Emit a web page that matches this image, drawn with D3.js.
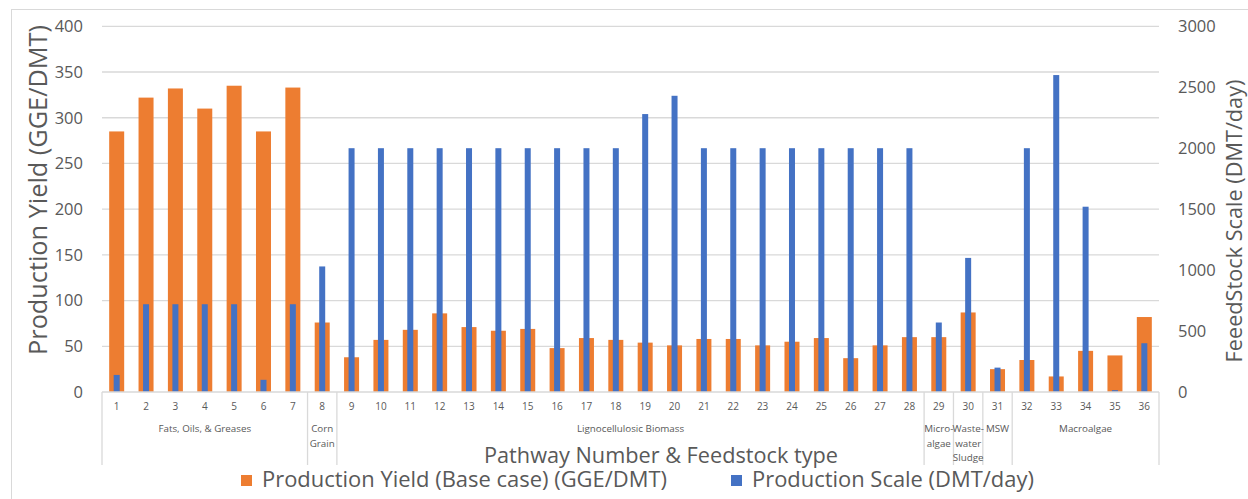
<!DOCTYPE html>
<html><head><meta charset="utf-8">
<script src="https://cdn.jsdelivr.net/npm/d3@7"></script>
<style>body{margin:0;background:#fff;} svg{display:block;} text{font-family:"Open Sans", Lato, sans-serif; fill:#595959;}</style>
</head><body>
<svg id="chart" width="1248" height="499"></svg>
<script>
const pathways = d3.range(1, 37).map(String);
const productionYield = [285,322,332,310,335,285,333,76,38,57,68,86,71,67,69,48,59,57,54,51,58,58,51,55,59,37,51,60,60,87,25,35,17,45,40,82];
const productionScale = [140,720,720,720,720,100,720,1030,2000,2000,2000,2000,2000,2000,2000,2000,2000,2000,2280,2430,2000,2000,2000,2000,2000,2000,2000,2000,570,1100,200,2000,2600,1520,15,400];
const feedstockGroups = [
  {lines:["Fats, Oils, & Greases"], from:1, to:7},
  {lines:["Corn","Grain"], from:8, to:8},
  {lines:["Lignocellulosic Biomass"], from:9, to:28},
  {lines:["Micro-","algae"], from:29, to:29},
  {lines:["Waste-","water","Sludge"], from:30, to:30},
  {lines:["MSW"], from:31, to:31},
  {lines:["Macroalgae"], from:32, to:36}
];
const leftTicks = [0,50,100,150,200,250,300,350,400];
const rightTicks = [0,500,1000,1500,2000,2500,3000];
const seriesNames = ["Production Yield (Base case) (GGE/DMT)", "Production Scale (DMT/day)"];
const colors = ["#ED7D31", "#4472C4"];

const svg = d3.select("#chart");
const L = 102, R = 1159, T = 26.3, B = 392;
const grid = "#d9d9d9";

svg.append("rect").attr("x",11.5).attr("y",9.5).attr("width",1300).attr("height",600)
  .attr("fill","none").attr("stroke",grid);

const x = d3.scaleBand().domain(pathways).range([L, R]).padding(0);
const yL = d3.scaleLinear().domain([0,400]).range([B, T]);
const yR = d3.scaleLinear().domain([0,3000]).range([B, T]);

function fit(sel, target) {
  sel.each(function() {
    const w = this.getComputedTextLength();
    const fs = parseFloat(this.getAttribute("font-size"));
    this.setAttribute("font-size", (fs * target / w).toFixed(2));
  });
}

svg.append("g").selectAll("line").data(leftTicks.slice(1)).join("line")
  .attr("x1",L).attr("x2",R).attr("y1",d=>yL(d)).attr("y2",d=>yL(d))
  .attr("stroke",grid).attr("stroke-width",1.3);

const axL = svg.append("g").attr("transform",`translate(${L-19},0)`)
  .call(d3.axisLeft(yL).tickValues(leftTicks).tickSize(0).tickPadding(0));
axL.select(".domain").remove();
axL.selectAll("text").attr("font-size",16.5).attr("font-family","Open Sans").attr("fill","#595959");

const axR = svg.append("g").attr("transform",`translate(${R+19},0)`)
  .call(d3.axisRight(yR).tickValues(rightTicks).tickFormat(d3.format("d")).tickSize(0).tickPadding(0));
axR.select(".domain").remove();
axR.selectAll("text").attr("font-size",16.5).attr("font-family","Open Sans").attr("fill","#595959");

const bw = x.bandwidth();
svg.append("g").selectAll("rect").data(productionYield).join("rect")
  .attr("x",(d,i)=>x(pathways[i]) + bw/2 - 7.5).attr("width",15)
  .attr("y",d=>yL(d)).attr("height",d=>B - yL(d)).attr("fill",colors[0]);
svg.append("g").selectAll("rect").data(productionScale).join("rect")
  .attr("x",(d,i)=>x(pathways[i]) + bw/2 - 3).attr("width",6)
  .attr("y",d=>yR(d)).attr("height",d=>B - yR(d)).attr("fill",colors[1]);

svg.append("line").attr("x1",L).attr("x2",R).attr("y1",B).attr("y2",B).attr("stroke",grid).attr("stroke-width",1.3);

svg.append("g").selectAll("text").data(pathways).join("text")
  .attr("x",d=>x(d)+bw/2).attr("y",410).attr("text-anchor","middle")
  .attr("font-size",10).text(d=>d);

const seps = [L, ...feedstockGroups.map(g=>x(String(g.to))+bw)];
svg.append("g").selectAll("line").data(seps).join("line")
  .attr("x1",d=>d).attr("x2",d=>d).attr("y1",B).attr("y2",465)
  .attr("stroke",grid).attr("stroke-width",1.3);

const gl = svg.append("g").selectAll("text").data(feedstockGroups).join("text")
  .attr("x",g=>(x(String(g.from)) + x(String(g.to)) + bw)/2).attr("y",432)
  .attr("text-anchor","middle").attr("font-size",9.8);
gl.selectAll("tspan").data(g=>g.lines.map(l=>({l, cx:(x(String(g.from)) + x(String(g.to)) + bw)/2}))).join("tspan")
  .attr("x",d=>d.cx).attr("dy",(d,i)=>i?14.5:0).text(d=>d.l);

const xt = svg.append("text").attr("x",661).attr("y",463).attr("text-anchor","middle")
  .attr("font-size",20).text("Pathway Number & Feedstock type");
fit(xt, 354);
const lt = svg.append("text").attr("transform","translate(47,190) rotate(-90)").attr("text-anchor","middle")
  .attr("font-size",20).text("Production Yield (GGE/DMT)");
fit(lt, 330);
const rt = svg.append("text").attr("transform","translate(1242,221) rotate(-90)").attr("text-anchor","middle")
  .attr("font-size",20).text("FeeedStock Scale (DMT/day)");
fit(rt, 283);

const legendX = [241, 731];
const legendW = [405, 282];
const lg = svg.append("g").selectAll("g").data(seriesNames).join("g")
  .attr("transform",(d,i)=>`translate(${legendX[i]},0)`);
lg.append("rect").attr("x",0).attr("y",475).attr("width",11).attr("height",11).attr("fill",(d,i)=>colors[i]);
lg.append("text").attr("x",21).attr("y",487).attr("font-size",20).text(d=>d)
  .each(function(d,i){ fit(d3.select(this), legendW[i]); });
</script>
</body></html>
